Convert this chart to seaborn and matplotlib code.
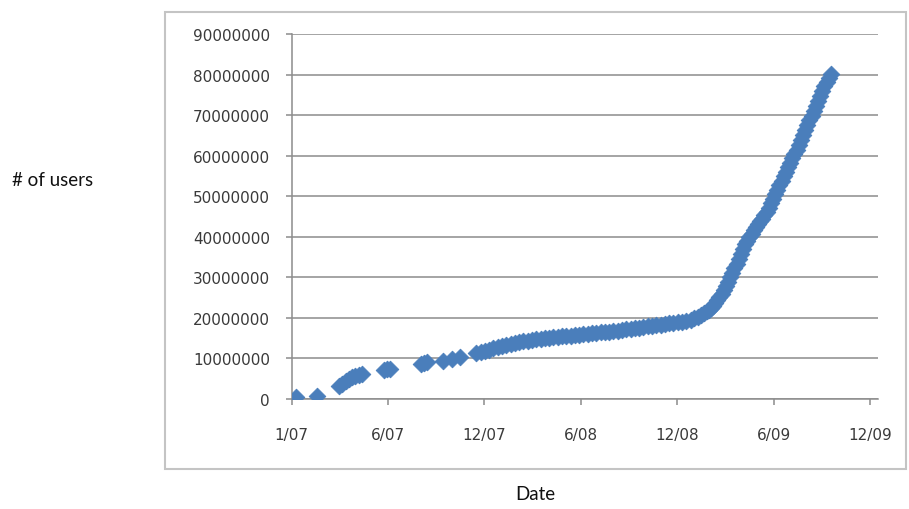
import matplotlib
matplotlib.use("Agg")
import matplotlib.pyplot as plt
from matplotlib.ticker import FuncFormatter, MultipleLocator, StrMethodFormatter
from matplotlib.patches import Rectangle
import matplotlib.dates as mdates
import pandas as pd
import seaborn as sns

# Axis range (first and last day of the date axis)
axis_start = "2007-01-01"
axis_end = "2009-12-31"
tick_step_days = 180

# Days after 2007-01-01 for each observation
day_offset = [
    9, 47,
    89, 95, 101, 107, 113, 119, 126, 132,
    173, 178, 183,
    242, 248, 253, 283, 299, 314,
    345, 353, 361, 369, 377, 385, 393, 401, 409, 417, 425, 433, 441, 449,
    457, 465, 473, 481, 489, 497, 505, 513, 521, 529, 537, 545, 553, 561,
    569, 577, 585, 593, 601, 609, 617, 625, 633, 641, 649, 657, 665, 673,
    681, 689, 697, 705, 713, 721, 729, 737, 745, 752, 758, 764, 770, 775,
    779, 783, 787, 791, 795, 799, 803, 807, 811, 815, 819, 823, 827, 831,
    835, 839, 843, 847, 851, 855, 859, 863, 867, 871, 875, 879, 883, 887,
    891, 895, 899, 903, 907, 911, 915, 919, 923, 927, 931, 935, 939, 943,
    947, 951, 955, 959, 963, 967, 971, 975, 979, 983, 987, 991, 995, 999,
    1003, 1007,
]

# Number of users, in millions
users_millions = [
    0.55, 0.75,
    3.3, 3.8, 4.4, 5.0, 5.4, 5.7, 6.0, 6.2,
    7.1, 7.3, 7.5,
    8.7, 8.8, 9.0, 9.45, 9.85, 10.4,
    11.3, 11.6, 11.9, 12.2, 12.5, 12.8, 13.1, 13.4, 13.6, 13.8, 14.0, 14.2, 14.4, 14.6,
    14.75, 14.9, 15.0, 15.1, 15.2, 15.3, 15.45, 15.55, 15.65, 15.75, 15.85, 15.95, 16.05, 16.15,
    16.3, 16.4, 16.5, 16.6, 16.7, 16.85, 17.0, 17.15, 17.3, 17.45, 17.6, 17.75, 17.9, 18.05,
    18.2, 18.35, 18.5, 18.65, 18.8, 18.95, 19.1, 19.3, 19.55, 19.85, 20.2, 20.6, 21.1, 21.6,
    22.0, 22.5, 23.0, 23.6, 24.3, 25.1, 26.0, 26.9, 27.9, 28.9, 30.0, 31.1, 32.2, 33.3,
    34.5, 35.8, 37.0, 38.1, 39.0, 39.9, 40.8, 41.6, 42.4, 43.1, 43.8, 44.5, 45.3, 46.2,
    47.2, 48.3, 49.4, 50.5, 51.6, 52.7, 53.8, 54.9, 56.0, 57.1, 58.2, 59.3, 60.4, 61.5,
    62.7, 63.9, 65.1, 66.3, 67.5, 68.7, 69.9, 71.1, 72.3, 73.5, 74.7, 75.9, 77.1, 78.2,
    79.2, 80.1,
]

y_max = 90_000_000
y_step = 10_000_000

x_title = "Date"
y_title = "# of users"

marker_color = "#4a7ebb"
grid_color = "#8c8c8c"
text_color = "#3a3a3a"

start = pd.Timestamp(axis_start)
df = pd.DataFrame({
    "date": start + pd.to_timedelta(day_offset, unit="D"),
    "users": [v * 1_000_000 for v in users_millions],
})

sns.set_theme(style="white")
plt.rcParams["font.family"] = ["DejaVu Sans"]

fig = plt.figure(figsize=(9.09, 5.10), dpi=100)
ax = fig.add_axes([0.3207, 0.2157, 0.6452, 0.7157])

sns.scatterplot(data=df, x="date", y="users", ax=ax, marker="D", s=72,
                color=marker_color, edgecolor=marker_color, linewidth=0.6, zorder=3)

ax.set_ylim(0, y_max)
ax.set_xlim(start, pd.Timestamp(axis_end))
ax.yaxis.set_major_locator(MultipleLocator(y_step))
ax.yaxis.set_major_formatter(StrMethodFormatter("{x:.0f}"))

tick_dates = pd.date_range(start, pd.Timestamp(axis_end), freq=f"{tick_step_days}D")
ax.set_xticks(mdates.date2num(tick_dates.to_pydatetime()))


def month_year(x, pos):
    d = mdates.num2date(x)
    return f"{d.month}/{d:%y}"


ax.xaxis.set_major_formatter(FuncFormatter(month_year))

ax.grid(axis="y", color=grid_color, linewidth=1.1, zorder=0)
ax.grid(axis="x", visible=False)
for side in ("top", "right"):
    ax.spines[side].set_visible(False)
for side in ("left", "bottom"):
    ax.spines[side].set_color(grid_color)
    ax.spines[side].set_linewidth(1.1)

ax.tick_params(axis="y", direction="out", length=4.5, width=1.1, color=grid_color,
               pad=11, labelsize=11, labelcolor=text_color, left=True)
ax.tick_params(axis="x", direction="out", length=4.5, width=1.1, color=grid_color,
               pad=16, labelsize=11, labelcolor=text_color, bottom=True)
ax.set_xlabel("")
ax.set_ylabel("")

# Chart area border
fig.patches.append(Rectangle((0.182, 0.0784), 0.8146, 0.896, transform=fig.transFigure,
                             fill=False, edgecolor="#c4c4c4", linewidth=1.5))

fig.text(0.013, 0.647, y_title, ha="left", va="center", fontsize=13.5,
         family=["Lato", "DejaVu Sans"], color="#111111")
fig.text(0.589, 0.014, x_title, ha="center", va="bottom", fontsize=13.5,
         family=["Lato", "DejaVu Sans"], color="#111111")

fig.savefig("out.png", dpi=100)
